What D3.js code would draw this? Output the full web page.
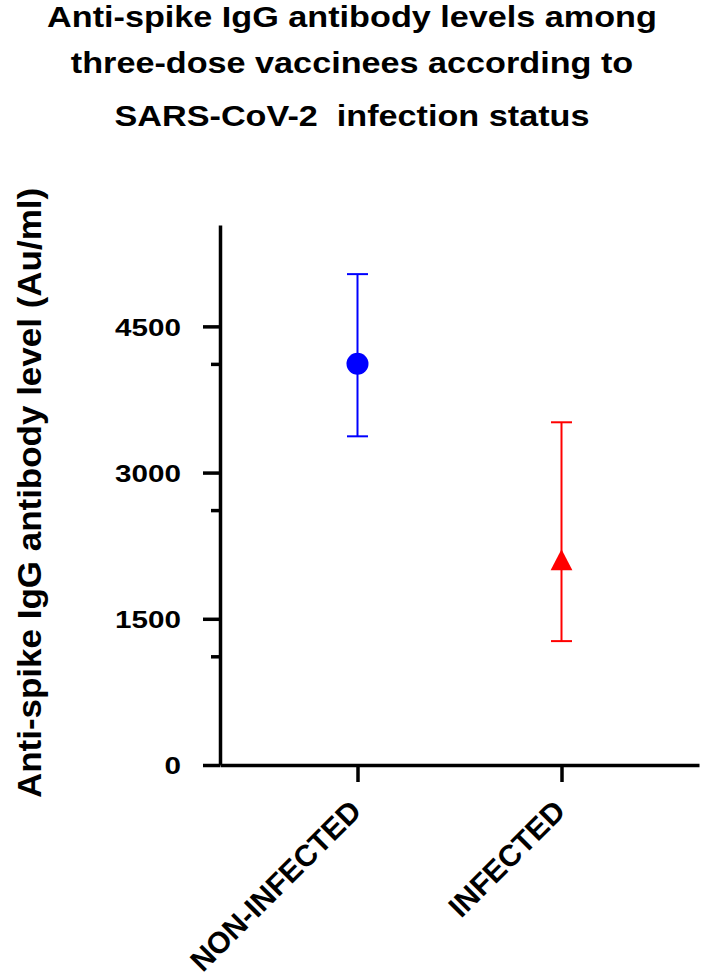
<!DOCTYPE html>
<html>
<head>
<meta charset="utf-8">
<script src="https://cdn.jsdelivr.net/npm/d3@7"></script>
<style>
  html, body { margin: 0; padding: 0; background: #fff; }
  svg { display: block; }
  text { font-family: "Liberation Sans", Arial, sans-serif; font-weight: bold; fill: #000; }
</style>
</head>
<body>
<svg id="chart" width="709" height="979"></svg>
<script>
// ---- data ----
const titleLines = [
  "Anti-spike IgG antibody levels among",
  "three-dose vaccinees according to",
  "SARS-CoV-2  infection status"
];
const yAxisLabel = "Anti-spike IgG antibody level (Au/ml)";
const categories = ["NON-INFECTED", "INFECTED"];
const means = [4117, 2106];
const upperErr = [5036, 3516];
const lowerErr = [3372, 1271];
const colors = ["#0000ff", "#ff0000"];
const shapes = ["circle", "triangle"];
const yMajorTicks = [0, 1500, 3000, 4500];
const yMinorTicks = [1110, 2610, 4110];
const yMax = 5540;

// ---- layout ----
const svg = d3.select("#chart");
const axisX = 220, axisBottom = 765, axisTop = 225, axisRight = 699;

const y = d3.scaleLinear().domain([0, yMax]).range([axisBottom, axisTop]);
const x = d3.scalePoint().domain(categories).range([axisX, axisRight]).padding(0.674);

function stretch(sel, k) {
  sel.each(function () {
    const t = d3.select(this);
    const tx = +t.attr("x") || 0;
    const ty = +t.attr("y") || 0;
    t.attr("x", 0).attr("y", 0)
     .attr("transform", `translate(${tx},${ty}) scale(${k},1)`);
  });
}

// title
const title = svg.append("g");
const titleY = [27, 73, 126];
titleLines.forEach((line, i) => {
  title.append("text")
    .attr("x", 352).attr("y", titleY[i])
    .attr("text-anchor", "middle")
    .style("font-size", "30px")
    .style("white-space", "pre")
    .text(line);
});
stretch(title.selectAll("text"), 1.14);

// y axis
const yAxisG = svg.append("g").attr("transform", `translate(${axisX},0)`)
  .call(d3.axisLeft(y).tickValues(yMajorTicks).tickSize(17).tickSizeOuter(0).tickPadding(22).tickFormat(d3.format("d")));
yAxisG.select(".domain").attr("stroke", "#000").attr("stroke-width", 3.5);
yAxisG.selectAll(".tick line").attr("stroke", "#000").attr("stroke-width", 3.5);
yAxisG.selectAll(".tick text")
  .style("font-size", "24px")
  .attr("dy", "0.36em")
  .attr("x", -39);
stretch(yAxisG.selectAll(".tick text"), 1.235);

// minor ticks
yAxisG.selectAll(".minor")
  .data(yMinorTicks)
  .join("line")
  .attr("class", "minor")
  .attr("x1", -9).attr("x2", 0)
  .attr("y1", d => y(d)).attr("y2", d => y(d))
  .attr("stroke", "#000").attr("stroke-width", 3.5);

// x axis
const xAxisG = svg.append("g").attr("transform", `translate(0,${axisBottom})`)
  .call(d3.axisBottom(x).tickSize(17).tickSizeOuter(0).tickPadding(0));
xAxisG.select(".domain").attr("stroke", "#000").attr("stroke-width", 3.5);
xAxisG.selectAll(".tick line").attr("stroke", "#000").attr("stroke-width", 3.5);
xAxisG.selectAll(".tick text")
  .style("font-size", "30px")
  .attr("text-anchor", "end")
  .attr("dy", 0)
  .attr("y", 0)
  .attr("transform", "translate(5,48) rotate(-45)");

// y-axis title
svg.append("text")
  .attr("transform", `translate(41,493) rotate(-90) scale(1.06,1)`)
  .attr("text-anchor", "middle")
  .style("font-size", "33px")
  .text(yAxisLabel);

// error bars & markers
const capHalf = 10.5;
const groups = svg.append("g").selectAll("g.series")
  .data(categories.map((c, i) => ({ c, m: means[i], hi: upperErr[i], lo: lowerErr[i], col: colors[i], shape: shapes[i] })))
  .join("g").attr("class", "series");

groups.append("line")
  .attr("x1", d => x(d.c)).attr("x2", d => x(d.c))
  .attr("y1", d => y(d.hi)).attr("y2", d => y(d.lo))
  .attr("stroke", d => d.col).attr("stroke-width", 2);
groups.append("line")
  .attr("x1", d => x(d.c) - capHalf).attr("x2", d => x(d.c) + capHalf)
  .attr("y1", d => y(d.hi)).attr("y2", d => y(d.hi))
  .attr("stroke", d => d.col).attr("stroke-width", 2);
groups.append("line")
  .attr("x1", d => x(d.c) - capHalf).attr("x2", d => x(d.c) + capHalf)
  .attr("y1", d => y(d.lo)).attr("y2", d => y(d.lo))
  .attr("stroke", d => d.col).attr("stroke-width", 2);

groups.filter(d => d.shape === "circle").append("circle")
  .attr("cx", d => x(d.c)).attr("cy", d => y(d.m))
  .attr("r", 11).attr("fill", d => d.col);

groups.filter(d => d.shape === "triangle").append("path")
  .attr("transform", d => `translate(${x(d.c)},${y(d.m)})`)
  .attr("d", "M0,-10.5L10.9,10.5L-10.9,10.5Z")
  .attr("fill", d => d.col);
</script>
</body>
</html>
